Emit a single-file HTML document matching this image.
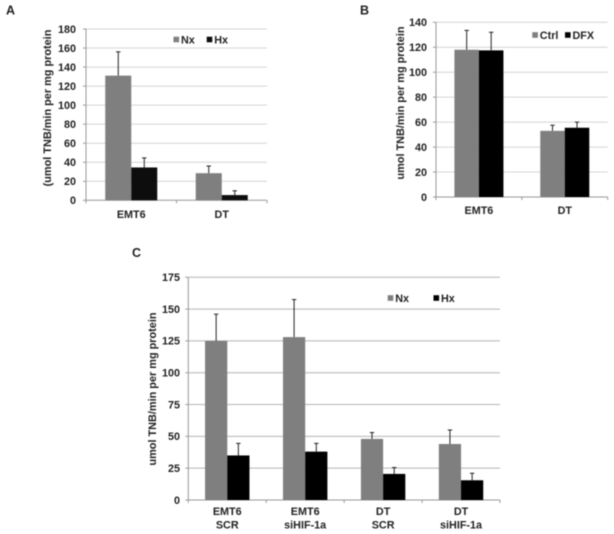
<!DOCTYPE html>
<html>
<head>
<meta charset="utf-8">
<style>
html,body{margin:0;padding:0;background:#fff;width:614px;height:534px;overflow:hidden}
svg{display:block;filter:blur(0.4px)}
text{font-family:"Liberation Sans",sans-serif;font-weight:bold;fill:#222}
</style>
</head>
<body>
<svg id="figure" width="614" height="534" viewBox="0 0 614 534" xmlns="http://www.w3.org/2000/svg"></svg>
<script>
// Panel A data
const aCategories = [["EMT6"], ["DT"]];
const aTicks = [0, 20, 40, 60, 80, 100, 120, 140, 160, 180];
const aNx = [131, 28.5];
const aNxErrTop = [156, 36];
const aHx = [34.5, 5.5];
const aHxErrTop = [44.5, 10];
// Panel B data
const bCategories = [["EMT6"], ["DT"]];
const bTicks = [0, 20, 40, 60, 80, 100, 120, 140];
const bCtrl = [118, 53];
const bCtrlErrTop = [133.5, 57.5];
const bDfx = [117.5, 55.5];
const bDfxErrTop = [132, 60];
// Panel C data
const cCategories = [["EMT6", "SCR"], ["EMT6", "siHIF-1a"], ["DT", "SCR"], ["DT", "siHIF-1a"]];
const cTicks = [0, 25, 50, 75, 100, 125, 150, 175];
const cNx = [125, 128, 48, 44];
const cNxErrTop = [146, 157.5, 53, 55];
const cHx = [35, 38, 20.5, 15.5];
const cHxErrTop = [44.5, 44.5, 25.5, 21];

const NS = "http://www.w3.org/2000/svg";
const svg = document.getElementById("figure");

function add(parent, tag, attrs, txt) {
  const el = document.createElementNS(NS, tag);
  for (const k in attrs) el.setAttribute(k, attrs[k]);
  if (txt !== undefined) el.textContent = txt;
  parent.appendChild(el);
  return el;
}

function drawChart(o) {
  const g = add(svg, "g", {});
  
  
  const maxV = o.ticks[o.ticks.length - 1];
  const y = v => o.y0 + (o.y1 - o.y0) * v / maxV;
  const catW = (o.x1 - o.x0) / o.categories.length;
  const catC = i => o.x0 + catW * (i + 0.5);

  const letter = add(g, "text", {x: o.letterX, y: o.letterY, "font-size": 12.5, fill: "#111"}, o.letter);
  
  

  o.ticks.forEach(t => {
    if (t !== 0) {
      const grid = add(g, "line", {x1: o.x0, x2: o.x1, y1: y(t), y2: y(t), stroke: o.grid, "stroke-width": 1});
      
      
    }
    const tick = add(g, "line", {x1: o.x0 - 3, x2: o.x0, y1: y(t), y2: y(t), stroke: "#999", "stroke-width": 1});
    
    
    const lab = add(g, "text", {x: o.tickX, y: y(t) + 3.8, "font-size": 10.8, "text-anchor": "end"}, String(t));
    
    
  });

  const yAxis = add(g, "line", {x1: o.x0, x2: o.x0, y1: y(0), y2: y(maxV), stroke: "#999", "stroke-width": 1});
  
  
  const xAxis = add(g, "line", {x1: o.x0, x2: o.x1, y1: y(0), y2: y(0), stroke: "#999", "stroke-width": 1});
  
  

  for (let i = 0; i <= o.categories.length; i++) {
    const xt = o.x0 + catW * i;
    const ct = add(g, "line", {x1: xt, x2: xt, y1: y(0), y2: y(0) + 3, stroke: "#999", "stroke-width": 1});
    
    
  }

  const title = add(g, "text", {
    x: 0, y: 0, "font-size": o.titleSize, "text-anchor": "middle",
    transform: "translate(" + o.titleX + "," + o.titleY + ") rotate(-90)"
  }, o.title);
  
  

  o.series.forEach((s, si) => {
    s.values.forEach((v, i) => {
      const bx = catC(i) - o.barW + si * o.barW;
      const top = s.errTop[i];
      const cx = bx + o.barW / 2;
      const err = add(g, "line", {x1: cx, x2: cx, y1: y(v), y2: y(top), stroke: "#222", "stroke-width": 1});
      
      
      const cap = add(g, "line", {x1: cx - 2.2, x2: cx + 2.2, y1: y(top), y2: y(top), stroke: "#222", "stroke-width": 1});
      
      
      const bar = add(g, "rect", {x: bx, y: y(v), width: o.barW, height: y(0) - y(v), fill: s.color});
      
      
    });
    const sw = add(g, "rect", {x: s.legendX, y: o.legendY - 2.8, width: 5.6, height: 5.6, fill: s.color});
    
    
    const lt = add(g, "text", {x: s.legendX + 7.5, y: o.legendY + 3.8, "font-size": 10.8}, s.label);
    
    
  });

  o.categories.forEach((lines, i) => {
    lines.forEach((ln, k) => {
      const cl = add(g, "text", {x: catC(i), y: o.catY + k * 13.3, "font-size": 10.8, "text-anchor": "middle"}, ln);
      
      
    });
  });
}

drawChart({
  id: "panel-a", letter: "A", letterX: 6, letterY: 14.5,
  x0: 86, x1: 267, y0: 200.3, y1: 29, barW: 26, grid: "#d4d4d4",
  ticks: aTicks, categories: aCategories, tickX: 76, catY: 218,
  title: "(umol TNB/min per mg protein", titleSize: 10.9, titleX: 51, titleY: 108,
  legendY: 39.5,
  series: [
    {name: "nx", label: "Nx", color: "#7f7f7f", values: aNx, errTop: aNxErrTop, legendX: 173.5},
    {name: "hx", label: "Hx", color: "#0d0d0d", values: aHx, errTop: aHxErrTop, legendX: 206.7}
  ]
});

drawChart({
  id: "panel-b", letter: "B", letterX: 360, letterY: 14.5,
  x0: 436, x1: 607.7, y0: 197, y1: 22.3, barW: 24.5, grid: "#d4d4d4",
  ticks: bTicks, categories: bCategories, tickX: 427, catY: 214,
  title: "umol TNB/min per mg protein", titleSize: 10.9, titleX: 404, titleY: 103,
  legendY: 35,
  series: [
    {name: "ctrl", label: "Ctrl", color: "#7f7f7f", values: bCtrl, errTop: bCtrlErrTop, legendX: 532.3},
    {name: "dfx", label: "DFX", color: "#000000", values: bDfx, errTop: bDfxErrTop, legendX: 565}
  ]
});

drawChart({
  id: "panel-c", letter: "C", letterX: 132, letterY: 257,
  x0: 188.3, x1: 500, y0: 500, y1: 277.3, barW: 22.2, grid: "#b4b4b4",
  ticks: cTicks, categories: cCategories, tickX: 180, catY: 515,
  title: "umol TNB/min per mg protein", titleSize: 10.9, titleX: 156, titleY: 389,
  legendY: 298,
  series: [
    {name: "nx", label: "Nx", color: "#7f7f7f", values: cNx, errTop: cNxErrTop, legendX: 387.7},
    {name: "hx", label: "Hx", color: "#000000", values: cHx, errTop: cHxErrTop, legendX: 433.5}
  ]
});
</script>
</body>
</html>
